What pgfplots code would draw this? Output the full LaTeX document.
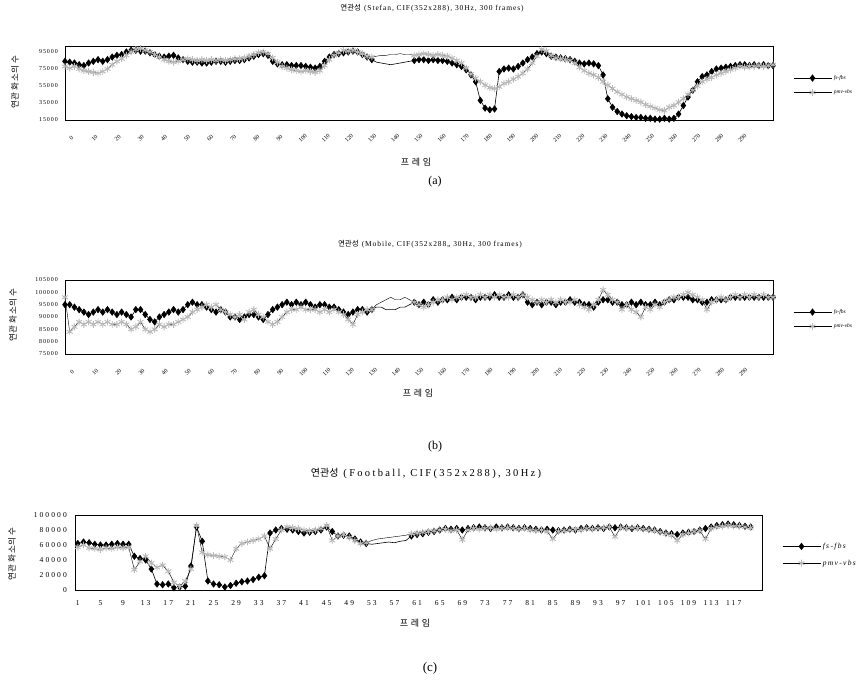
\documentclass[border=0pt]{standalone}
\usepackage{pgfplots}
\pgfplotsset{compat=1.18}
\usepackage{pgfplotstable}
\usepackage{fontspec}
\setmainfont{Liberation Serif}
\newfontfamily\kr{Noto Sans CJK KR}

% Stefan: f = frame as read on the plot (0..300 across the drawn span),
% fs-fbs, pmv-vbs in thousands of pixels
\pgfplotstableread{
f fs pmv
0 84 78
2 83 76
4 82 78
6 80 75
8 79 73
10 82 72
12 84 71
14 86 70
16 84 72
18 86 75
20 89 80
22 91 84
24 92 87
26 95 91
28 97 95
30 97 98
32 96 99
34 96 97
36 94 95
38 92 92
40 90 89
42 89 86
44 90 84
46 91 83
48 88 84
50 86 86
52 84 87
54 83 86
56 83 85
58 82 86
60 82 85
62 83 86
64 84 85
66 84 86
68 83 85
70 84 86
72 85 87
74 85 87
76 86 88
78 88 90
80 90 92
82 92 94
84 93 95
86 91 93
88 84 88
90 81 83
92 80 78
94 80 76
96 79 74
98 79 73
100 79 72
102 78 73
104 77 72
106 76 71
108 78 73
110 84 79
112 89 86
114 92 91
116 93 94
118 94 97
120 95 96
122 96 97
124 95 95
126 92 93
128 89 90
130 86 89
132 83 90
134 82 91
136 81 91
138 80 92
140 81 92
142 82 93
144 83 92
146 84 92
148 85 91
150 86 92
152 86 93
154 85 92
156 86 91
158 85 92
160 85 91
162 84 90
164 82 88
166 80 85
168 78 82
170 74 76
172 68 69
174 60 64
176 38 60
178 29 56
180 27 53
182 28 52
184 72 54
186 75 58
188 76 60
190 75 63
192 78 66
194 82 70
196 86 75
198 89 82
200 93 90
202 95 98
204 93 96
206 90 91
208 89 88
210 88 87
212 87 86
214 86 85
216 84 82
218 82 77
220 81 73
222 82 70
224 81 68
226 79 65
228 68 60
230 40 56
232 30 52
234 25 48
236 22 45
238 20 42
240 19 40
242 18 38
244 18 36
246 17 33
248 17 31
250 16 29
252 16 27
254 17 26
256 16 30
258 17 32
260 22 36
262 32 40
264 42 45
266 50 50
268 60 55
270 66 60
272 68 63
274 72 65
276 75 68
278 76 70
280 77 72
282 78 74
284 79 76
286 80 78
288 80 77
290 79 78
292 80 78
294 79 79
296 80 78
298 79 79
300 79 80
}\stefan

% Mobile
\pgfplotstableread{
f fs pmv
0 95 98
2 95 84
4 94 86
6 93 88
8 92 87
10 91 88
12 92 87
14 93 88
16 92 87
18 93 88
20 92 87
22 91 87
24 92 88
26 91 87
28 90 85
30 93 86
32 93 88
34 91 85
36 89 84
38 88 85
40 90 87
42 91 86
44 92 87
46 93 87
48 92 88
50 93 89
52 95 90
54 96 92
56 95 93
58 95 94
60 94 95
62 93 94
64 92 95
66 93 93
68 92 92
70 90 91
72 90 90
74 89 91
76 90 89
78 91 92
80 91 93
82 90 91
84 89 90
86 91 88
88 93 87
90 94 88
92 95 90
94 96 92
96 95 93
98 96 93
100 95 94
102 96 93
104 95 93
106 94 93
108 95 92
110 95 93
112 94 92
114 94 93
116 93 92
118 92 91
120 91 89
122 92 87
124 93 91
126 93 92
128 92 93
130 93 93
132 94 95
134 94 96
136 93 97
138 93 98
140 93 97
142 94 97
144 94 98
146 95 97
148 96 96
150 95 95
152 96 94
154 95 95
156 97 96
158 96 97
160 97 97
162 97 98
164 98 97
166 97 98
168 98 98
170 98 99
172 98 98
174 97 98
176 98 99
178 98 98
180 98 99
182 99 98
184 98 99
186 98 98
188 99 98
190 98 99
192 98 98
194 99 99
196 96 98
198 95 97
200 96 96
202 95 97
204 96 96
206 96 97
208 95 96
210 96 97
212 96 96
214 97 96
216 96 97
218 96 95
220 95 94
222 95 93
224 94 95
226 96 97
228 97 101
230 97 99
232 96 97
234 96 96
236 95 93
238 95 95
240 96 93
242 95 92
244 96 90
246 95 94
248 95 93
250 96 95
252 95 94
254 96 96
256 97 97
258 97 98
260 98 98
262 98 99
264 98 100
266 97 99
268 97 98
270 96 97
272 96 93
274 97 96
276 97 97
278 97 98
280 97 97
282 98 98
284 98 99
286 98 98
288 98 99
290 98 98
292 98 99
294 98 98
296 98 99
298 98 98
300 98 98
}\mobile

% Football
\pgfplotstableread{
f fs pmv
1 62 57
2 64 60
3 63 56
4 61 55
5 60 54
6 60 56
7 61 55
8 62 57
9 61 56
10 61 57
11 45 27
12 42 38
13 40 45
14 28 36
15 8 30
16 7 33
17 8 25
18 3 10
19 4 5
20 5 12
21 32 28
22 84 86
23 65 50
24 12 47
25 8 46
26 7 45
27 4 44
28 6 40
29 9 55
30 11 62
31 12 64
32 14 66
33 17 68
34 19 72
35 76 55
36 80 68
37 82 80
38 81 84
39 80 83
40 78 82
41 76 80
42 77 79
43 78 80
44 80 82
45 84 86
46 78 66
47 72 72
48 73 74
49 72 70
50 68 66
51 64 62
52 62 63
53 61 66
54 62 68
55 63 69
56 64 70
57 63 71
58 65 72
59 66 73
60 72 75
61 74 76
62 75 77
63 77 78
64 78 79
65 80 80
66 82 81
67 81 79
68 82 80
69 80 67
70 82 80
71 83 82
72 84 81
73 83 82
74 82 83
75 84 81
76 83 82
77 84 83
78 83 82
79 82 81
80 83 82
81 82 80
82 81 79
83 80 80
84 81 78
85 80 68
86 79 78
87 80 79
88 81 80
89 80 81
90 82 80
91 83 82
92 82 81
93 83 82
94 82 83
95 84 84
96 83 71
97 84 83
98 83 82
99 82 83
100 83 82
101 82 81
102 81 80
103 80 79
104 78 77
105 76 75
106 75 73
107 74 66
108 76 74
109 77 76
110 78 78
111 80 79
112 82 68
113 84 82
114 86 84
115 87 85
116 88 86
117 87 85
118 86 85
119 85 84
120 84 83
}\football

\newcommand\tfont{\fontsize{7.5}{8}\selectfont\addfontfeatures{LetterSpace=12}}
\newcommand\krlab{\kr\fontsize{8.5}{9}\selectfont\addfontfeatures{LetterSpace=5}}
\newcommand\krx{\kr\fontsize{9}{10}\selectfont\addfontfeatures{LetterSpace=30}}

\pgfplotsset{
  panel/.style={
    scale only axis, clip=false,
    axis line style={line width=0.8pt},
    major tick length=0pt,
    /pgf/number format/assume math mode=true,
    yticklabel style={font=\fontsize{6}{7}\selectfont\addfontfeatures{LetterSpace=15},
      inner sep=1pt, xshift=-6pt},
    legend cell align=left,
    legend style={draw=none, fill=none, inner sep=0pt, row sep=5pt,
      at={(1,0.47)}, anchor=west, xshift=20pt,
      font=\fontsize{5.5}{6}\selectfont\itshape},
    legend image code/.code={
      \draw[##1, mark=none] (0pt,0pt) -- (38pt,0pt);
      \draw[##1] plot coordinates {(19pt,0pt)};},
  },
  fsline/.style={black, line width=0.6pt, mark=diamond*, mark size=3.2pt},
  pmvline/.style={black, line width=0.4pt, mark=asterisk, mark size=3.4pt,
    mark options={draw=gray!55, line width=0.9pt}},
  % the drawn span holds 306 frame steps; the read frames are spread over 300 of
  % them on the picture, hence x = 1.02 f
  rotticks/.style={
    xmin=0, xmax=306, xtick={0,10,...,290},
    xticklabel style={font=\fontsize{6}{7}\selectfont, rotate=45, anchor=center,
      inner sep=0pt, xshift=-8pt, yshift=-17pt},
  },
}

\begin{document}
\begin{tikzpicture}
\useasboundingbox (0,0) rectangle (865pt,-691pt);

% (a) Stefan
\node at (432pt,-8pt) {{\kr\fontsize{7.5}{8}\selectfont 연관성}\hspace{3pt}{\tfont (Stefan, CIF(352x288), 30Hz, 300 frames)}};
\begin{axis}[panel, rotticks, at={(65pt,-120pt)}, anchor=south west,
  width=708pt, height=74pt, ymin=15, ymax=102,
  ytick={15,35,55,75,95}, yticklabels={15000,35000,55000,75000,95000}]
\addplot[fsline, mark indices={1,...,66,75,76,...,151}] table[x expr=1.02*\thisrow{f}, y=fs] {\stefan};
\addlegendentry{fs-fbs}
\addplot[pmvline, mark indices={1,...,66,75,76,...,151}] table[x expr=1.02*\thisrow{f}, y=pmv] {\stefan};
\addlegendentry{pmv-vbs}
\end{axis}
\node[rotate=90] at (15pt,-82pt) {\krlab 연관 화소의 수};
\node at (416pt,-162pt) {\krx 프레임};
\node at (435pt,-182pt) {\fontsize{12}{14}\selectfont (a)};

% (b) Mobile
\node at (430pt,-244pt) {{\kr\fontsize{7.5}{8}\selectfont 연관성}\hspace{3pt}{\tfont (Mobile, CIF(352x288,, 30Hz, 300 frames)}};
\begin{axis}[panel, rotticks, at={(65pt,-354pt)}, anchor=south west,
  width=708pt, height=74pt, ymin=75, ymax=105,
  xticklabel style={yshift=-1pt},
  ytick={75,80,...,105}, yticklabels={75000,80000,85000,90000,95000,100000,105000}]
\addplot[fsline, mark indices={1,...,66,75,76,...,151}] table[x expr=1.02*\thisrow{f}, y=fs] {\mobile};
\addlegendentry{fs-fbs}
\addplot[pmvline, mark indices={1,...,66,75,76,...,151}] table[x expr=1.02*\thisrow{f}, y=pmv] {\mobile};
\addlegendentry{pmv-vbs}
\end{axis}
\node[rotate=90] at (13pt,-315pt) {\krlab 연관 화소의 수};
\node at (418pt,-393pt) {\krx 프레임};
\node at (435pt,-447pt) {\fontsize{12}{14}\selectfont (b)};

% (c) Football
\node at (426pt,-473pt) {{\kr\fontsize{10}{11}\selectfont 연관성}\hspace{5pt}{\fontsize{10.5}{11}\selectfont\addfontfeatures{LetterSpace=22}(Football, CIF(352x288), 30Hz)}};
\begin{axis}[panel, at={(75pt,-590pt)}, anchor=south west,
  width=687pt, height=75pt,
  xmin=0.5, xmax=122, xtick={1,5,...,117},
  ytick={0,20,...,100}, yticklabels={0,20000,40000,60000,80000,100000},
  ymin=0, ymax=100,
  xticklabel style={font=\fontsize{7.5}{8}\selectfont\addfontfeatures{LetterSpace=28}, yshift=-7pt},
  yticklabel style={font=\fontsize{7.5}{8}\selectfont\addfontfeatures{LetterSpace=28}, xshift=-1pt},
  legend style={font=\fontsize{7.5}{8}\selectfont\itshape\addfontfeatures{LetterSpace=18}, row sep=6pt}]
\addplot[fsline, mark indices={1,...,52,60,61,...,120}] table[x=f, y=fs] {\football};
\addlegendentry{fs-fbs}
\addplot[pmvline, mark indices={1,...,52,60,61,...,120}] table[x=f, y=pmv] {\football};
\addlegendentry{pmv-vbs}
\end{axis}
\node[rotate=90] at (12pt,-554pt) {\krlab 연관 화소의 수};
\node at (415pt,-623pt) {\krx 프레임};
\node at (430pt,-668pt) {\fontsize{13}{15}\selectfont (c)};
\end{tikzpicture}
\end{document}
